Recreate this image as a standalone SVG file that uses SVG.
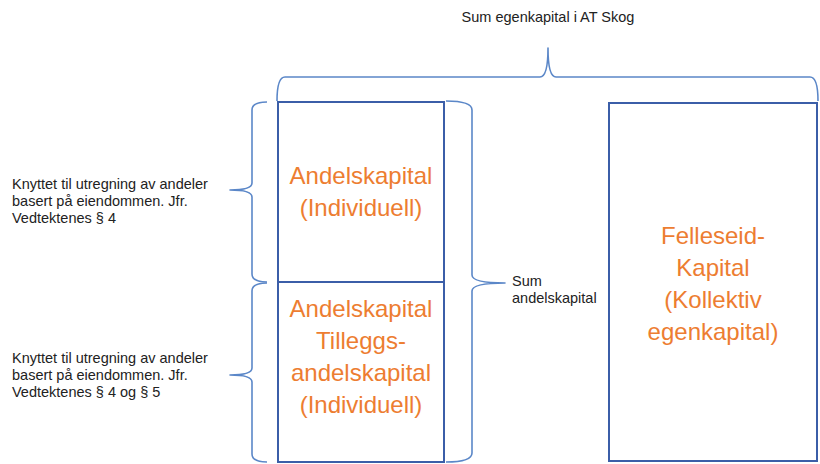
<svg xmlns="http://www.w3.org/2000/svg" width="820" height="464" viewBox="0 0 820 464">
<style>
.box{fill:#ffffff;stroke:#3b5ea8;stroke-width:2}
.brace{fill:none;stroke:#5b87c8;stroke-width:1.6;stroke-linejoin:round}
.big{font-family:"Liberation Sans",Arial,sans-serif;font-size:24px;fill:#ed7d31;text-anchor:middle}
.small{font-family:"Liberation Sans",Arial,sans-serif;font-size:14.5px;fill:#222222}
</style>
<rect width="820" height="464" fill="#ffffff"/>
<g id="connectors">
<path class="brace" d="M277,101 Q277,77 285,77 L540,77 Q548,77 548,48 Q548,77 556,77 L810,77 Q818,77 818,101"/>
<path class="brace" d="M267,102 Q252,102 252,110 L252,183 Q252,190 230,190 Q252,190 252,197 L252,274 Q252,282 267,282"/>
<path class="brace" d="M267,283 Q252,283 252,291 L252,368 Q252,375 230,375 Q252,375 252,382 L252,454 Q252,462 267,462"/>
<path class="brace" d="M446,101 Q472,101 472,110 L472,275 Q472,283 505,283 Q472,283 472,291 L472,453 Q472,462 446,462"/>
</g>
<g id="title">
<text class="small" x="548" y="22" text-anchor="middle">Sum egenkapital i AT Skog</text>
</g>
<g id="note1">
<text class="small" x="12" y="189">Knyttet til utregning av andeler</text>
<text class="small" x="12" y="206">basert på eiendommen. Jfr.</text>
<text class="small" x="12" y="223">Vedtektenes § 4</text>
</g>
<g id="note2">
<text class="small" x="12" y="363">Knyttet til utregning av andeler</text>
<text class="small" x="12" y="380">basert på eiendommen. Jfr.</text>
<text class="small" x="12" y="397">Vedtektenes § 4 og § 5</text>
</g>
<g id="sum-andel">
<text class="small" x="512" y="286">Sum</text>
<text class="small" x="512" y="303">andelskapital</text>
</g>
<g id="andel-individuell">
<rect class="box" x="278" y="102" width="166" height="180"/>
<text class="big" x="361" y="184">Andelskapital</text>
<text class="big" x="361" y="216">(Individuell)</text>
</g>
<g id="andel-tillegg">
<rect class="box" x="278" y="282" width="166" height="180"/>
<text class="big" x="361" y="317">Andelskapital</text>
<text class="big" x="361" y="349">Tilleggs-</text>
<text class="big" x="361" y="381">andelskapital</text>
<text class="big" x="361" y="413">(Individuell)</text>
</g>
<g id="felleseid">
<rect class="box" x="609" y="103" width="208" height="358"/>
<text class="big" x="713" y="244">Felleseid-</text>
<text class="big" x="713" y="276">Kapital</text>
<text class="big" x="713" y="308">(Kollektiv</text>
<text class="big" x="713" y="340">egenkapital)</text>
</g>
</svg>
